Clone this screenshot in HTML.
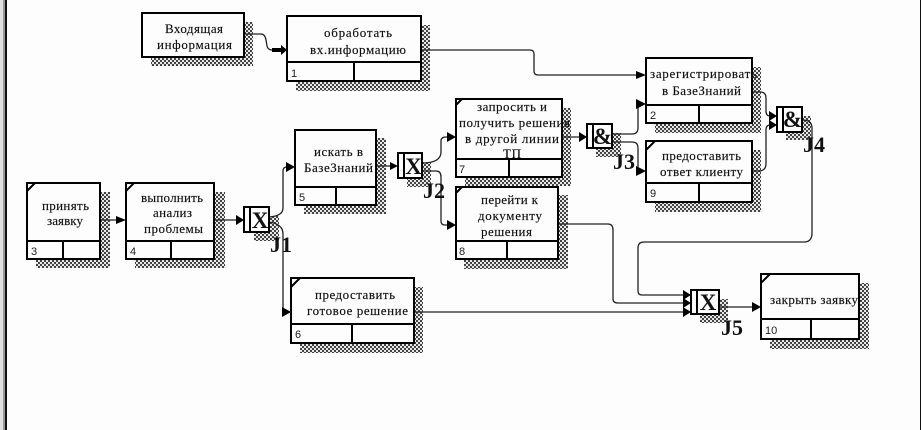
<!DOCTYPE html>
<html><head><meta charset="utf-8"><style>
html,body{margin:0;padding:0;background:#fdfdfd;width:921px;height:430px;overflow:hidden}
svg{display:block}
.t text{font-family:"Liberation Serif","Noto Serif CJK SC",serif;font-size:13px;fill:#111;stroke:#111;stroke-width:.15}
.n text{font-family:"Liberation Sans","Noto Sans CJK SC",sans-serif;font-size:11px;fill:#222}
.j text{font-family:"Liberation Serif",serif;font-size:22px;font-weight:bold;fill:#111}
.x text{font-family:"Liberation Serif",serif;font-size:23px;font-weight:bold;fill:#111;text-anchor:middle}
.b rect{fill:#fdfdfd;stroke:#000;stroke-width:2}
.b path{fill:none;stroke:#000;stroke-width:2}
.s rect{fill:url(#d)}
.c path{fill:none;stroke:#222;stroke-width:1.3}
.a path{fill:#000}
</style></head><body>
<svg width="921" height="430" viewBox="0 0 921 430" xmlns="http://www.w3.org/2000/svg">
<defs><pattern id="d" width="4" height="4" patternUnits="userSpaceOnUse"><rect width="4" height="4" fill="#e8e8e8"/><rect width="2" height="2" fill="#444"/><rect x="2" y="2" width="2" height="2" fill="#444"/></pattern></defs>
<rect x="0" y="0" width="3" height="430" fill="#e2e2e2"/>
<rect x="3" y="0" width="2" height="430" fill="#999"/>
<rect x="5" y="0" width="2" height="430" fill="#111"/>
<rect x="920" y="0" width="1" height="430" fill="#111"/>
<g class="s">
<rect x="151" y="22" width="102" height="44"/>
<rect x="296" y="25" width="134" height="66"/>
<rect x="304" y="138" width="82" height="76"/>
<rect x="36" y="192" width="74" height="76"/>
<rect x="135" y="192" width="90" height="76"/>
<rect x="300" y="287" width="123" height="66"/>
<rect x="465" y="108" width="106" height="78"/>
<rect x="464" y="195" width="104" height="74"/>
<rect x="655" y="67" width="106" height="66"/>
<rect x="655" y="150" width="106" height="62"/>
<rect x="770" y="283" width="99" height="66"/>
<rect x="254" y="216" width="25" height="25"/>
<rect x="407" y="162" width="24" height="25"/>
<rect x="596" y="133" width="25" height="24"/>
<rect x="786" y="116" width="25" height="24"/>
<rect x="700" y="299" width="28" height="24"/>
</g>
<g class="c">
<path d="M244 34H261Q265 34 266 40L267 46Q268 50 272 50H282"/>
<path d="M421 50H530Q534 50 534 54V71Q534 75 538 75H640"/>
<path d="M100 220H120"/><path d="M214 220H238"/>
<path d="M269 217Q283 216 283 208V171Q283 167 287 167H290" stroke="#666" stroke-width="1.6"/>
<path d="M269 222Q283 224 283 234V308Q283 312 287 312H286" stroke-width="1.6"/>
<path d="M376 166H392"/>
<path d="M422 163Q441 163 441 152V141Q441 137 446 137H450"/>
<path d="M422 171H436Q441 171 441 177V221Q441 225 445 225H450"/>
<path d="M562 137H581"/>
<path d="M612 134H632Q638 134 638 128V108Q638 104 640 104"/>
<path d="M612 142H632Q638 142 638 148V168Q638 171 640 171"/>
<path d="M752 92H760Q766 92 766 98V111Q766 116 770 116H771"/>
<path d="M752 171H760Q766 170 766 164V130Q766 125 770 125H771"/>
<path d="M802 120Q812 120 812 128V233Q812 242 804 242H644Q638 242 638 248V291Q638 295 642 295H685" stroke-width="1.7"/>
<path d="M558 224H608Q613 224 613 230V299Q613 303 618 303H685" stroke-width="1.7"/>
<path d="M414 312H685"/>
<path d="M719 307H755"/>
</g>
<g class="a">
<path d="M281 45L287 50L281 55Z M272 48h10v4h-10Z"/>
<path d="M636 71L646 75L636 79Z"/>
<path d="M116 216L126 220L116 224Z"/>
<path d="M236 215L244 220L236 225Z"/>
<path d="M286 162L295 167L286 172Z"/>
<path d="M282 307L291 312L282 317Z"/>
<path d="M390 162L398 166L390 170Z"/>
<path d="M447 132L456 137L447 142Z"/>
<path d="M447 220L456 225L447 230Z"/>
<path d="M579 132L587 137L579 142Z"/>
<path d="M636 99L646 104L636 109Z"/>
<path d="M636 166L646 171L636 176Z"/>
<path d="M769 111L777 116L769 121Z"/>
<path d="M769 120L777 125L769 130Z"/>
<path d="M683 290L691 295L683 300Z"/>
<path d="M683 298L691 303L683 308Z"/>
<path d="M683 307L691 312L683 317Z"/>
<path d="M752 302L761 307L752 312Z"/>
</g>
<g class="b">
<rect x="142" y="13" width="102" height="44"/>
<rect x="287" y="16" width="134" height="65"/><path d="M287 62H421M354 62V81"/>
<rect x="295" y="130" width="81" height="75"/><path d="M295 187H376M336 187V205"/>
<rect x="27" y="183" width="73" height="76"/><path d="M27 241H100M63 241V259M27 191L35 183"/>
<rect x="126" y="183" width="88" height="76"/><path d="M126 241H214M171 241V259M126 191L134 183"/>
<rect x="291" y="278" width="123" height="65"/><path d="M291 324H414M352 324V343M291 287L300 278"/>
<rect x="456" y="99" width="106" height="78"/><path d="M456 159H562M509 159V177M456 105L462 99"/>
<rect x="456" y="187" width="102" height="72"/><path d="M456 241H558M507 241V259M456 193L462 187"/>
<rect x="646" y="58" width="106" height="65"/><path d="M646 105H752M699 105V123"/>
<rect x="646" y="141" width="106" height="61"/><path d="M646 183H752M699 183V202M646 150L655 141"/>
<rect x="761" y="274" width="98" height="65"/><path d="M761 319H859M811 319V339M761 283L770 274"/>
<rect x="244" y="207" width="25" height="25"/><path d="M250 207V232"/>
<rect x="398" y="153" width="24" height="25"/><path d="M404 153V178"/>
<rect x="587" y="124" width="25" height="24"/><path d="M593 124V148"/>
<rect x="777" y="107" width="25" height="25"/><path d="M783 107V132"/>
<rect x="691" y="290" width="28" height="24"/><path d="M697 290V314"/>
</g>
<g class="x">
<text x="260" y="228">X</text>
<text x="413.500" y="174">X</text>
<text x="602.500" y="144">&amp;</text>
<text x="792.500" y="127">&amp;</text>
<text x="708" y="310">X</text>
</g>
<g class="t">
<text x="165" y="33" textLength="58">Входящая</text>
<text x="157" y="49" textLength="75">информация</text>
<text x="324" y="37" textLength="68">обработать</text>
<text x="310" y="54" textLength="96">вх.информацию</text>
<text x="314" y="156" textLength="49">искать в</text>
<text x="304" y="172" textLength="69">БазеЗнаний</text>
<text x="42" y="210" textLength="47">принять</text>
<text x="47" y="225" textLength="36">заявку</text>
<text x="141" y="202" textLength="62">выполнить</text>
<text x="153" y="217" textLength="39">анализ</text>
<text x="144" y="233" textLength="59">проблемы</text>
<text x="315" y="299" textLength="80">предоставить</text>
<text x="307" y="315" textLength="101">готовое решение</text>
<text x="477" y="111" textLength="70">запросить и</text>
<text x="459" y="127" textLength="111">получить решения</text>
<text x="465" y="143" textLength="94">в другой линии</text>
<text x="503" y="158" textLength="18">ТП</text>
<text x="481" y="204" textLength="57">перейти к</text>
<text x="478" y="220" textLength="64">документу</text>
<text x="481" y="236" textLength="51">решения</text>
<text x="650" y="78" textLength="107">зарегистрировать</text>
<text x="662" y="95" textLength="79">в БазеЗнаний</text>
<text x="662" y="160" textLength="79">предоставить</text>
<text x="660" y="176" textLength="83">ответ клиенту</text>
<text x="770" y="304" textLength="88">закрыть заявку</text>
</g>
<g class="n">
<text x="291" y="77">1</text>
<text x="299" y="201">5</text>
<text x="31" y="255">3</text>
<text x="130" y="255">4</text>
<text x="295" y="338">6</text>
<text x="459" y="173">7</text>
<text x="459" y="255">8</text>
<text x="650" y="119">2</text>
<text x="650" y="197">9</text>
<text x="765" y="334">10</text>
</g>
<g class="j">
<text x="270" y="252">J1</text>
<text x="423" y="198">J2</text>
<text x="613" y="169">J3</text>
<text x="803" y="152">J4</text>
<text x="721" y="335">J5</text>
</g>
</svg>
</body></html>
